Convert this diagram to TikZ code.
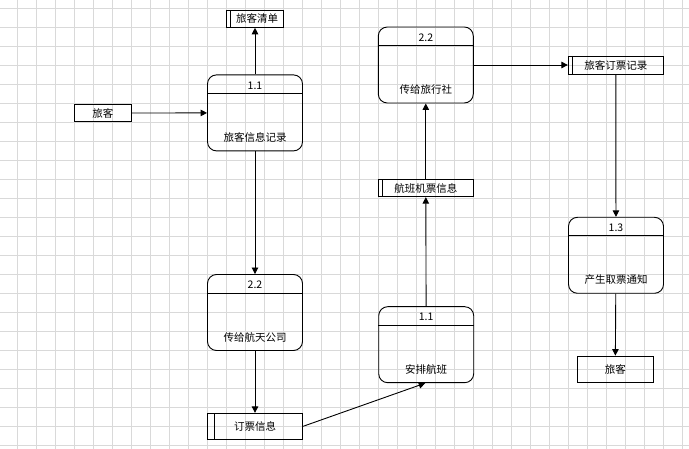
\documentclass[tikz,border=0pt]{standalone}
\usepackage{fontspec}
\setmainfont{Noto Sans CJK SC}
\usetikzlibrary{arrows.meta}
\tikzset{
    process/.style={
        draw, rounded corners=9pt,
        minimum width=95pt, minimum height=76pt,
        inner sep=0pt,
    },
    store/.style={
        draw, inner sep=0pt,
        path picture={\draw ([xshift=#1]path picture bounding box.north west)
            -- ([xshift=#1]path picture bounding box.south west);},
    },
    store/.default=4pt,
    entity/.style={draw, inner sep=0pt},
    gridline/.style={draw=gray!30, line width=0.8pt},
}
\tikzstyle{dfdstyle}=[
    x=1pt, y=-1pt,
    >={Triangle[length=6.5pt,width=6.5pt]},
    line width=0.9pt,
    font=\fontsize{10.5}{12}\selectfont,
]

\begin{document}
\begin{tikzpicture}[dfdstyle]
        \useasboundingbox (0,0) rectangle (689,449);
        % background grid
        \foreach \i in {0,...,35}
            \draw[gridline] ({17.3+19*\i},0) -- ({17.3+19*\i},449);
        \foreach \j in {0,...,23}
            \draw[gridline] (0,{8.3+19*\j}) -- (689,{8.3+19*\j});

        % processes
        \node (rec) at (255, 112.9) [process] {};
        \node (toagency) at (425.8, 65) [process] {};
        \node (toairline) at (255, 312.5) [process] {};
        \node (arrange) at (426.2, 344.7) [process] {};
        \node (notice) at (616, 255.3) [process] {};
        \foreach \p/\n/\t in {rec/1.1/旅客信息记录, toagency/2.2/传给旅行社,
                toairline/2.2/传给航天公司, arrange/1.1/安排航班, notice/1.3/产生取票通知} {
            \draw ([yshift=-19pt]\p.north west) -- ([yshift=-19pt]\p.north east);
            \node (\p-num) at ([yshift=-11pt]\p.north) {\n};
            \node (\p-txt) at ([yshift=-63pt]\p.north) {\t};
        }

        % data stores and entities
        \node (list) at (255, 18.7) [store, minimum width=56.6pt, minimum height=17.3pt] {\hspace{4pt}旅客清单};
        \node (booking) at (615.8, 65) [store, minimum width=95pt, minimum height=18pt] {旅客订票记录};
        \node (flight) at (425.8, 188) [store, minimum width=95pt, minimum height=17.4pt] {航班机票信息};
        \node (order) at (255, 426.3) [store=7pt, minimum width=95.4pt, minimum height=26pt] {订票信息};
        \node (pass1) at (102.9, 113) [entity, minimum width=57.7pt, minimum height=17.4pt] {旅客};
        \node (pass2) at (615.3, 369.2) [entity, minimum width=76pt, minimum height=26.3pt] {旅客};

        % flows
        \draw[->] (pass1) -- (rec);
        \draw[->] (rec) -- (list);
        \draw[->] (rec) -- (toairline);
        \draw[->] (toairline) -- (order);
        \draw[->] (order.east) -- ([xshift=-1pt]arrange.south);
        \draw[->] (arrange) -- (flight);
        \draw[->] (flight) -- (toagency);
        \draw[->] (toagency) -- (booking);
        \draw[->] (booking) -- (notice);
        \draw[->] (notice) -- (pass2);
    \end{tikzpicture}
\end{document}
